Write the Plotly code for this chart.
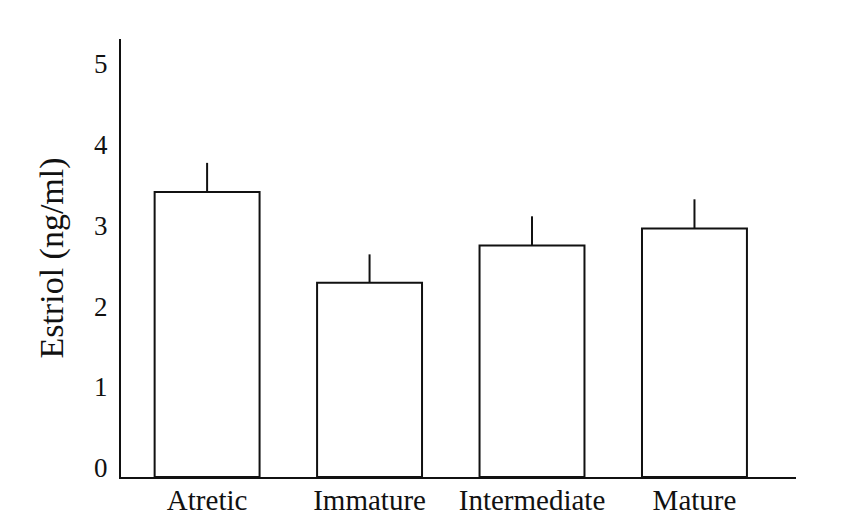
import plotly.graph_objects as go

categories = ["Atretic", "Immature", "Intermediate", "Mature"]
estriol = [3.52, 2.40, 2.86, 3.07]
err_upper = [0.36, 0.35, 0.36, 0.36]
y_ticks = [0, 1, 2, 3, 4, 5]

FONT = "Liberation Serif"
INK = "#111111"

fig = go.Figure()
fig.add_trace(go.Bar(
    x=categories,
    y=estriol,
    marker=dict(color="white", line=dict(color=INK, width=2)),
    error_y=dict(type="data", array=err_upper, arrayminus=[0] * len(err_upper),
                 symmetric=False, color=INK, thickness=2, width=0),
    showlegend=False,
))

fig.update_layout(
    width=865, height=531,
    margin=dict(l=113, r=77, t=31, b=62),
    paper_bgcolor="white", plot_bgcolor="white",
    bargap=0.354,
    font=dict(family=FONT, color=INK, size=27),
)
fig.update_xaxes(
    range=[-0.53, 3.625],
    showline=True, linecolor=INK, linewidth=2,
    showgrid=False, zeroline=False, ticks="",
    tickfont=dict(family=FONT, size=29, color=INK),
    ticklabelstandoff=-4,
)
fig.update_yaxes(
    range=[0, 5.41],
    tickvals=y_ticks,
    showline=True, linecolor=INK, linewidth=2,
    showgrid=False, zeroline=False, ticks="",
    tickfont=dict(family=FONT, size=27, color=INK),
    ticklabelshift=-9,
    ticklabelstandoff=6,
    title=dict(text="Estriol (ng/ml)", font=dict(family=FONT, size=34, color=INK), standoff=20),
)

fig.write_html("out.html")
